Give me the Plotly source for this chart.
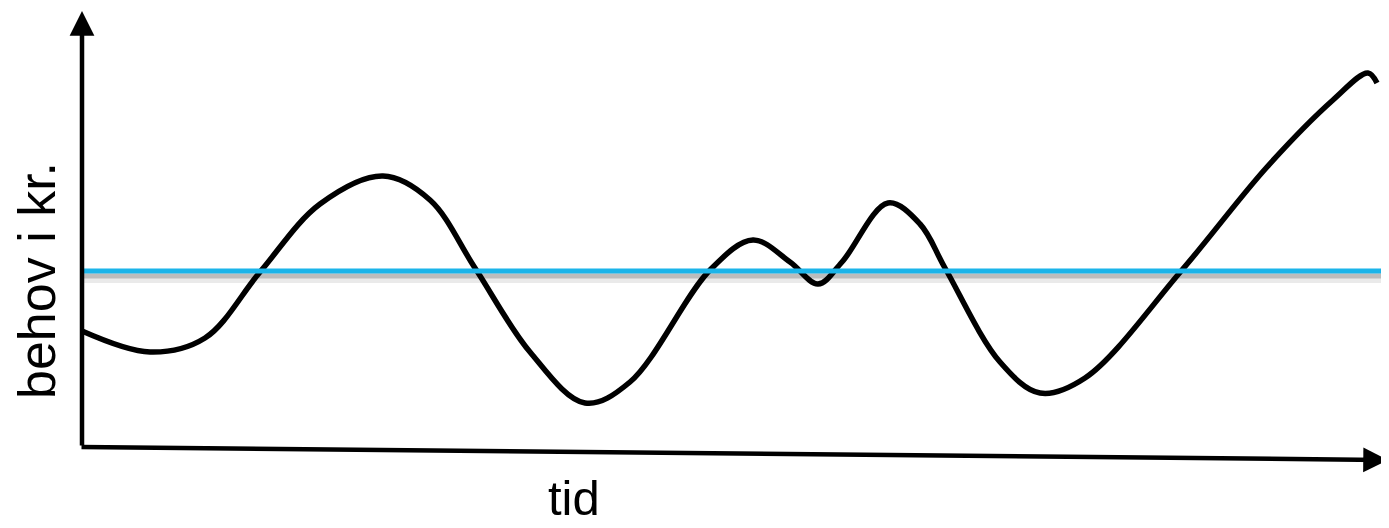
import plotly.graph_objects as go

W, H = 1389, 528
OFF = 8  # page body margin of the browser

# time (x) and demand (y) of the black curve, in chart units
tid = [82, 150, 205, 260, 320, 383, 430, 475, 530, 585, 630, 710, 753,
       790, 818, 842, 888, 920, 945, 1000, 1040, 1085, 1182, 1267, 1333, 1368, 1377]
behov_px = [331, 352, 338, 272, 204, 176, 200, 268, 352, 403, 382, 270, 240,
            262, 284, 262, 203, 224, 268, 362, 393, 378, 270, 167, 100, 73, 83]
behov = [H - v for v in behov_px]

# flat (average) level, blue line
niveau_x = [80, 1389]
niveau_y = [H - 271, H - 271]

# axis geometry
yaxis_x = 82
yaxis_bottom = H - 447
yaxis_top = H - 11
xaxis_left = (80, H - 447)
xaxis_right = (1388, H - 460)

fig = go.Figure()

# shadow under blue line
fig.add_trace(go.Scatter(x=niveau_x, y=[v - 7 for v in niveau_y], mode="lines",
                         line=dict(color="rgba(150,150,150,0.2)", width=10),
                         hoverinfo="skip", showlegend=False))
fig.add_trace(go.Scatter(x=niveau_x, y=[v - 5 for v in niveau_y], mode="lines",
                         line=dict(color="rgba(120,120,120,0.4)", width=5),
                         hoverinfo="skip", showlegend=False))

fig.add_trace(go.Scatter(x=tid, y=behov, mode="lines",
                         line=dict(color="black", width=5.5, shape="spline", smoothing=1.0),
                         showlegend=False))

fig.add_trace(go.Scatter(x=niveau_x, y=niveau_y, mode="lines",
                         line=dict(color="#1BB4E9", width=5),
                         showlegend=False))

# axes with arrows
fig.add_annotation(x=yaxis_x, y=yaxis_top, ax=yaxis_x, ay=yaxis_bottom,
                   xref="x", yref="y", axref="x", ayref="y", text="",
                   showarrow=True, arrowhead=2, arrowsize=1.1, arrowwidth=4.5,
                   arrowcolor="black", standoff=0)
fig.add_annotation(x=xaxis_right[0], y=xaxis_right[1], ax=xaxis_left[0], ay=xaxis_left[1],
                   xref="x", yref="y", axref="x", ayref="y", text="",
                   showarrow=True, arrowhead=2, arrowsize=1.1, arrowwidth=4.5,
                   arrowcolor="black", standoff=0)

fig.add_annotation(x=574, y=H - 498, xref="x", yref="y", text="tid", showarrow=False,
                   font=dict(family="Liberation Sans, Arial", size=49, color="black"),
                   xanchor="center", yanchor="middle")
fig.add_annotation(x=37, y=H - 281, xref="x", yref="y", text="behov i kr.", showarrow=False,
                   textangle=-90,
                   font=dict(family="Liberation Sans, Arial", size=52, color="black"),
                   xanchor="center", yanchor="middle")

fig.update_layout(
    width=W, height=H,
    margin=dict(l=0, r=0, t=0, b=0),
    paper_bgcolor="white", plot_bgcolor="white",
    xaxis=dict(range=[OFF, W + OFF], visible=False, fixedrange=True),
    yaxis=dict(range=[-OFF, H - OFF], visible=False, fixedrange=True),
)

fig.write_html("out.html")
